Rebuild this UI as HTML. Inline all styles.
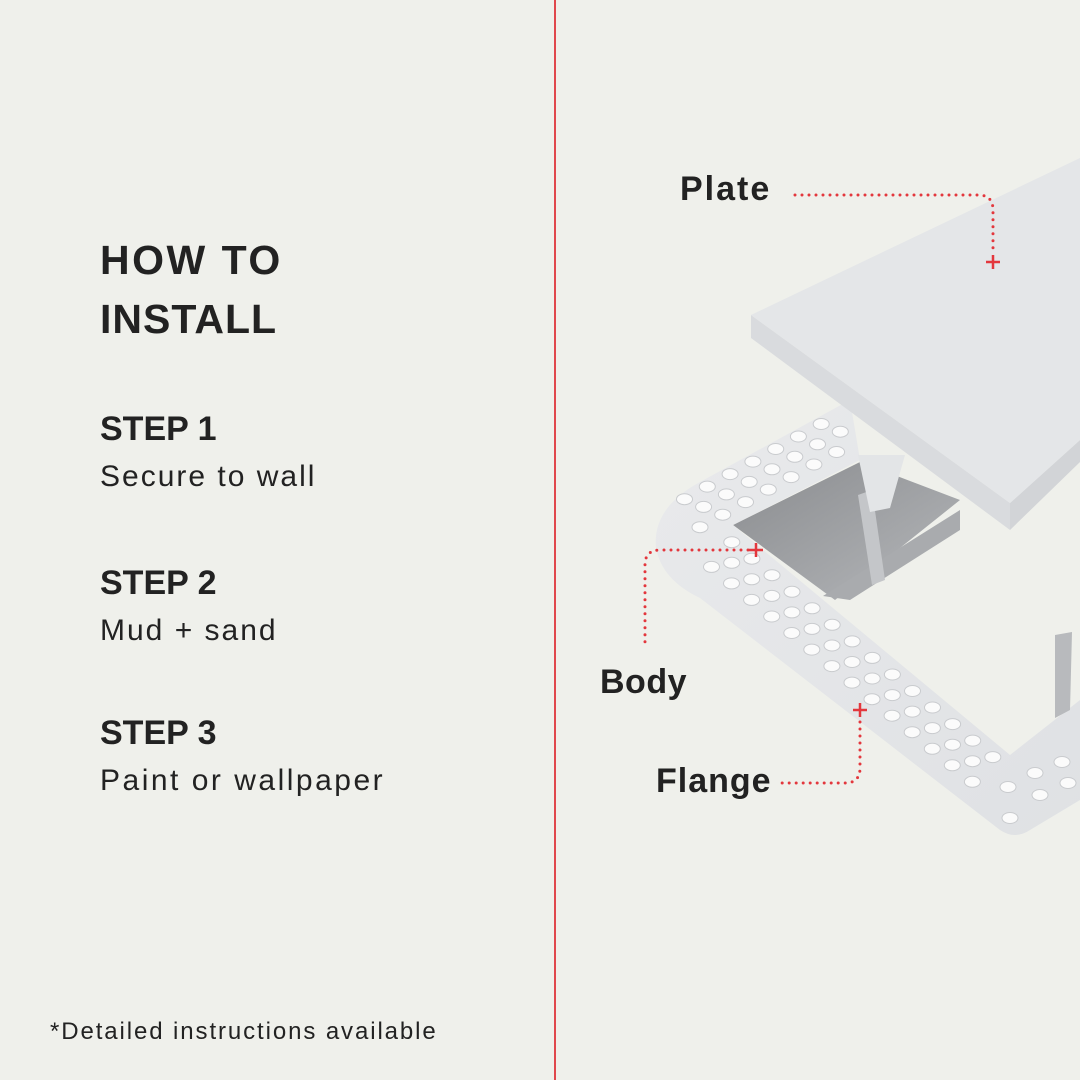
<!DOCTYPE html>
<html><head><meta charset="utf-8"><style>
html,body{margin:0;padding:0}
body{width:1080px;height:1080px;background:#eff0eb;position:relative;overflow:hidden;font-family:"Liberation Sans",sans-serif;color:#222}
.t{position:absolute;white-space:nowrap;line-height:1}
.b{font-weight:bold}
.s{letter-spacing:2px}
</style></head><body>
<div class="t b" style="left:100px;top:240px;font-size:41px;letter-spacing:2.5px">HOW TO</div>
<div class="t b" style="left:100px;top:299px;font-size:41px;letter-spacing:1px">INSTALL</div>
<div class="t b" style="left:100px;top:412px;font-size:34px">STEP 1</div>
<div class="t s" style="left:100px;top:462px;font-size:30px">Secure to wall</div>
<div class="t b" style="left:100px;top:566px;font-size:34px">STEP 2</div>
<div class="t s" style="left:100px;top:616px;font-size:30px">Mud + sand</div>
<div class="t b" style="left:100px;top:716px;font-size:34px">STEP 3</div>
<div class="t s" style="left:100px;top:766px;font-size:30px;letter-spacing:2.5px">Paint or wallpaper</div>
<div class="t" style="left:50px;top:1020px;font-size:24px;letter-spacing:1.9px">*Detailed instructions available</div>
<div style="position:absolute;left:554px;top:0;width:2px;height:1080px;background:#e0474c"></div>

<svg width="1080" height="1080" style="position:absolute;left:0;top:0" xmlns="http://www.w3.org/2000/svg">
<defs>
<linearGradient id="fl" x1="0" y1="0" x2="1" y2="1"><stop offset="0" stop-color="#e9eaec"/><stop offset="1" stop-color="#dfe1e4"/></linearGradient>
<linearGradient id="dk" x1="0" y1="0" x2="1" y2="1"><stop offset="0" stop-color="#8a8c8f"/><stop offset="1" stop-color="#b5b7ba"/></linearGradient>
</defs>
<polygon points="733,525 860,462 960,500 835,600" fill="url(#dk)"/>
<polygon points="823,596 960,510 960,530 850,600" fill="#a9abae"/>
<path d="M850,400 L700,482 Q652,508 656,548 Q662,580 700,598 L1000,830 Q1015,840 1030,830 L1080,800 L1080,700 L1010,755 L733,525 L860,460 Z" fill="url(#fl)"/>
<polygon points="858,495 872,490 885,580 872,585" fill="#c4c6c9"/>
<polygon points="1055,635 1072,632 1070,710 1055,718" fill="#b8babd"/>
<g id="holes" fill="#fbfbfb" stroke="#c9cbce" stroke-width="1"></g>
<polygon points="751,338 1010,530 1010,503 751,315" fill="#d9dbde"/>
<polygon points="1010,503 1080,440 1080,462 1010,530" fill="#d2d4d7"/>
<polygon points="858,455 905,455 890,508 870,512" fill="#e3e5e7"/>
<polygon points="751,315 1080,158 1080,440 1010,503" fill="#e4e6e8"/>
<g fill="none" stroke="#e3373d" stroke-width="3" stroke-dasharray="0 7" stroke-linecap="round">
<path d="M795,195 L978,195 Q993,195 993,210 L993,248"/>
<path d="M748,550 L660,550 Q645,550 645,565 L645,648"/>
<path d="M860,722 L860,768 Q860,783 845,783 L778,783"/>
</g>
<g stroke="#e3373d" stroke-width="2.5">
<path d="M986,262 h14 M993,255 v14"/>
<path d="M749,550 h14 M756,543 v14"/>
<path d="M853,710 h14 M860,703 v14"/>
</g>
<g font-family="Liberation Sans, sans-serif" font-weight="bold" font-size="34" fill="#222">
<text x="680" y="200" letter-spacing="2">Plate</text>
<text x="600" y="693" letter-spacing="0.5">Body</text>
<text x="656" y="792" letter-spacing="1">Flange</text>
</g>
</svg>
<script>
(function(){
var g=document.getElementById('holes'),s='';
function h(x,y){s+='<ellipse cx="'+x.toFixed(1)+'" cy="'+y.toFixed(1)+'" rx="8" ry="5.5"/>';}
var dx=0.772,dy=0.636,nx=-0.636,ny=0.772;
[14,30,46].forEach(function(o,i){for(var t=10+(i%2)*13;t<360;t+=26){var x=733+t*dx+o*nx,y=525+t*dy+o*ny;if(x<1000&&x>680)h(x,y);}});
var ux=0.876,uy=-0.482,mx=-0.482,my=-0.876;
[14,30,46].forEach(function(o,i){for(var t=-30+(i%2)*13;t<150;t+=26){var x=733+t*ux+o*mx,y=525+t*uy+o*my;if(x<845&&x>672&&y<530)h(x,y);}});
[[1035,773],[1062,762],[1008,787],[1040,795],[1068,783],[1010,818]].forEach(function(p){h(p[0],p[1]);});
g.innerHTML=s;
})();
</script>
</body></html>
